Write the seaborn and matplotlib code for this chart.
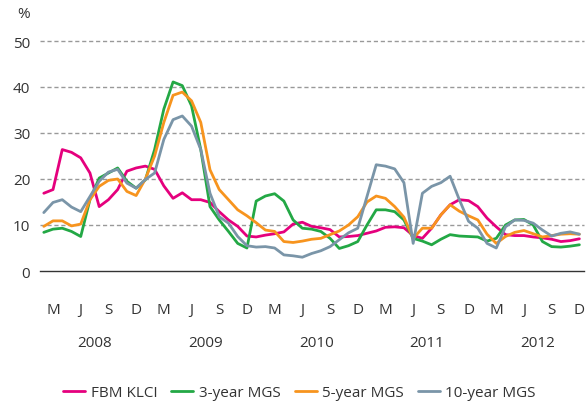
import numpy as np
import pandas as pd
import matplotlib
matplotlib.use("Agg")
import matplotlib.pyplot as plt
import matplotlib.transforms as mtransforms
import seaborn as sns

sns.set_theme(style="white")
plt.rcParams["font.family"] = ["Open Sans", "DejaVu Sans"]

# monthly values, Feb 2008 .. Dec 2012 (annualised volatility, %)
months = pd.date_range("2008-02-01", "2012-12-01", freq="MS")

klci = [16.9, 17.7, 26.4, 25.8, 24.6, 21.3, 14.0, 15.5, 17.7, 21.7, 22.4,
        22.8, 22.1, 18.5, 15.8, 17.0, 15.5, 15.5, 14.9, 12.9, 11.1, 9.7, 7.6,
        7.4, 7.8, 8.1, 8.5, 10.2, 10.6, 9.7, 9.4, 9.0, 7.4, 7.5, 7.7,
        8.2, 8.7, 9.5, 9.6, 9.4, 7.7, 7.1, 9.3, 12.2, 14.4, 15.5, 15.3,
        14.0, 11.5, 9.6, 7.9, 7.7, 7.7, 7.4, 7.2, 6.9, 6.4, 6.6, 7.0]

mgs3 = [8.4, 9.1, 9.3, 8.6, 7.5, 15.5, 20.2, 21.3, 22.4, 19.5, 18.0,
        19.8, 26.4, 35.2, 41.1, 40.3, 35.9, 26.4, 14.0, 11.1, 8.6, 6.0, 5.0,
        15.2, 16.3, 16.8, 15.2, 11.1, 9.3, 9.1, 8.6, 7.1, 4.9, 5.5, 6.4,
        10.0, 13.3, 13.3, 12.9, 11.1, 7.1, 6.5, 5.7, 6.9, 7.9, 7.6, 7.5,
        7.4, 6.5, 7.1, 10.0, 11.1, 11.2, 10.0, 6.4, 5.3, 5.2, 5.4, 5.7]

mgs5 = [9.7, 10.9, 10.9, 9.8, 10.2, 15.5, 18.4, 19.7, 20.0, 17.3, 16.4,
        20.0, 25.0, 32.3, 38.2, 38.9, 37.0, 32.3, 22.0, 17.7, 15.5, 13.3, 12.0,
        10.5, 8.9, 8.6, 6.4, 6.2, 6.5, 6.9, 7.1, 7.9, 8.7, 10.0, 11.8,
        15.0, 16.3, 15.8, 14.0, 11.7, 7.1, 9.3, 9.3, 12.2, 14.4, 13.0, 12.0,
        11.1, 8.0, 6.0, 7.5, 8.4, 8.8, 8.1, 7.4, 7.7, 8.0, 8.1, 8.0]

mgs10 = [12.7, 14.9, 15.5, 13.9, 12.9, 16.2, 19.5, 21.5, 22.1, 19.1, 18.0,
         19.9, 21.3, 28.6, 32.9, 33.7, 31.5, 26.4, 16.9, 11.8, 10.4, 7.5, 5.5,
         5.2, 5.3, 5.0, 3.5, 3.3, 3.0, 3.8, 4.4, 5.3, 6.8, 8.3, 9.3,
         16.2, 23.1, 22.8, 22.2, 19.2, 6.0, 16.9, 18.4, 19.2, 20.6, 15.5, 10.8,
         9.3, 6.0, 5.0, 9.6, 11.1, 11.0, 10.4, 8.9, 7.6, 8.2, 8.5, 8.0]

series_names = ["FBM KLCI", "3-year MGS", "5-year MGS", "10-year MGS"]
colors = ["#E5007D", "#23A845", "#F7941E", "#7A95A8"]
quarter_labels = ["M", "J", "S", "D"]
years = [2008, 2009, 2010, 2011, 2012]

# month index, 0 = March 2008
m_idx = [(d.year - 2008) * 12 + d.month - 3 for d in months]
df = pd.concat([
    pd.DataFrame({"m": m_idx, "v": vals, "series": name})
    for name, vals in zip(series_names, [klci, mgs3, mgs5, mgs10])
])

fig = plt.figure(figsize=(5.86, 4.06), dpi=100)
ax = fig.add_axes([40 / 586, 134 / 406, 544 / 586, 230 / 406])

sns.lineplot(data=df, x="m", y="v", hue="series", hue_order=series_names,
             palette=colors, linewidth=2.0, ax=ax, legend=False)

ax.set_xlim(-1.41, 57.5)
ax.set_ylim(0, 50)
ax.set_yticks([0, 10, 20, 30, 40, 50])
for yv in [10, 20, 30, 40, 50]:
    ax.axhline(yv, color="#999999", lw=1, ls=(0, (3, 2)), zorder=0, clip_on=False)

ticks = list(range(0, 58, 3))
ax.set_xticks(ticks)
ax.set_xticklabels([quarter_labels[i % 4] for i in range(len(ticks))])
ax.tick_params(axis="x", direction="out", length=8, width=1, color="#333333",
               pad=14, labelsize=11, labelcolor="#333333")
ax.tick_params(axis="y", length=0, pad=7, labelsize=11, labelcolor="#333333")
ax.set_xlabel("")
ax.set_ylabel("")

for side in ["top", "right", "left"]:
    ax.spines[side].set_visible(False)
ax.spines["bottom"].set_color("#333333")
ax.spines["bottom"].set_linewidth(1)

trans = mtransforms.blended_transform_factory(ax.transData, ax.transAxes)
for k, yr in enumerate(years):
    ax.text(4.5 + 12 * k, -0.31, str(yr), transform=trans, ha="center",
            va="center", fontsize=11, color="#333333")

fig.text(24 / 586, 1 - 15 / 406, "%", ha="center", va="center",
         fontsize=11, color="#333333")

handles = [plt.Line2D([], [], color=c, lw=2.0) for c in colors]
fig.legend(handles, series_names, loc="center", bbox_to_anchor=(0.511, 12 / 406),
           ncol=4, frameon=False, fontsize=11, handlelength=1.44,
           handletextpad=0.36, columnspacing=0.92, labelcolor="#333333",
           borderpad=0, borderaxespad=0)

fig.savefig("out.png", dpi=100)
